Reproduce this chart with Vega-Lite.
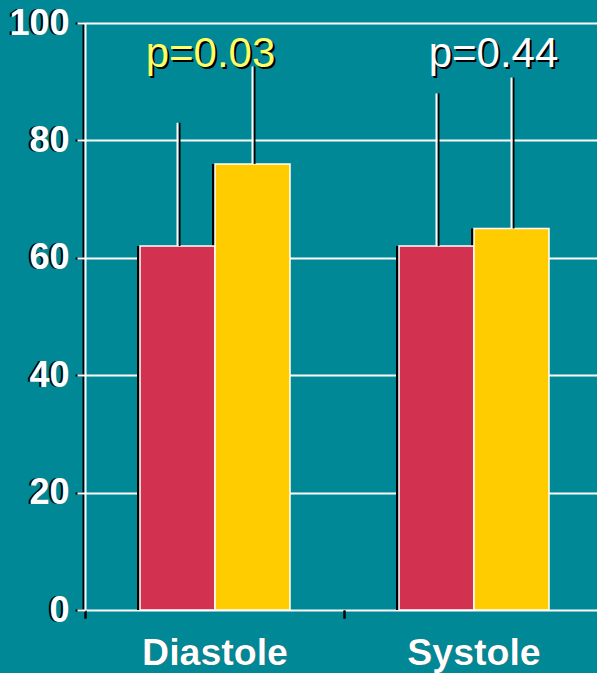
{
  "$schema": "https://vega.github.io/schema/vega-lite/v6.json",
  "autosize": "none",
  "padding": {"left": 85, "top": 23, "right": 0, "bottom": 63},
  "width": 518,
  "height": 587,
  "background": "#008896",
  "config": {"view": {"stroke": null}, "font": "Liberation Sans"},
  "datasets": {
    "bars": [
      {"group": "Diastole", "series": "A", "value": 62, "upper": 83},
      {"group": "Diastole", "series": "B", "value": 76, "upper": 92.6},
      {"group": "Systole", "series": "A", "value": 62, "upper": 88},
      {"group": "Systole", "series": "B", "value": 65, "upper": 90.7}
    ],
    "labels": [
      {"group": "Diastole", "p": "p=0.03"},
      {"group": "Systole", "p": "p=0.44"}
    ]
  },
  "layer": [
    {
      "data": {"name": "bars"},
      "mark": {"type": "bar", "color": "black"},
      "encoding": {
        "x": {"field": "group", "type": "nominal", "sort": ["Diastole", "Systole"],
          "scale": {"paddingInner": 0, "paddingOuter": 0},
          "axis": {"orient": "bottom", "title": null, "domain": false, "grid": false, "tickBand": "extent",
            "tickColor": "black", "tickWidth": 2, "tickSize": 8, "labelAngle": 0,
            "labelColor": "black", "labelFontSize": 37.5, "labelFontWeight": "bold", "labelPadding": 16,
            "encode": {"labels": {"update": {"dx": {"value": -2}, "dy": {"value": 2}}}}}},
        "xOffset": {"field": "series", "type": "nominal", "scale": {"range": [52, 202], "paddingInner": 0, "paddingOuter": 0}},
        "y": {"field": "value", "type": "quantitative", "scale": {"domain": [0, 100]},
          "axis": {"orient": "left", "title": null, "offset": 2, "values": [0, 20, 40, 60, 80, 100], "grid": false,
            "domainColor": "black", "domainWidth": 2, "tickColor": "black", "tickWidth": 2, "tickSize": 8,
            "labelColor": "black", "labelFontSize": 36, "labelFontWeight": "bold", "labelPadding": 8,
            "encode": {"labels": {"update": {"dy": {"value": 2}}}}}}
      }
    },
    {
      "data": {"name": "bars"},
      "mark": {"type": "bar", "stroke": "white", "strokeWidth": 1.5},
      "encoding": {
        "x": {"field": "group", "type": "nominal", "sort": ["Diastole", "Systole"],
          "scale": {"paddingInner": 0, "paddingOuter": 0},
          "axis": {"orient": "bottom", "title": null, "domain": false, "grid": false, "tickBand": "extent",
            "tickColor": "black", "tickWidth": 2, "tickSize": 8, "labelAngle": 0,
            "labelColor": "white", "labelFontSize": 37.5, "labelFontWeight": "bold", "labelPadding": 16}},
        "xOffset": {"field": "series", "type": "nominal", "scale": {"range": [55, 205], "paddingInner": 0, "paddingOuter": 0}},
        "y": {"field": "value", "type": "quantitative", "scale": {"domain": [0, 100]},
          "axis": {"orient": "left", "title": null, "values": [0, 20, 40, 60, 80, 100], "grid": true,
            "gridColor": "white", "gridWidth": 2, "gridOpacity": 1,
            "domainColor": "white", "domainWidth": 2, "tickColor": "white", "tickWidth": 2, "tickSize": 8,
            "labelColor": "white", "labelFontSize": 36, "labelFontWeight": "bold", "labelPadding": 8}},
        "color": {"field": "series", "type": "nominal", "scale": {"domain": ["A", "B"], "range": ["#D23250", "#FFCC00"]}, "legend": null}
      }
    },
    {
      "data": {"name": "bars"},
      "mark": {"type": "rule", "color": "black", "strokeWidth": 2},
      "encoding": {
        "x": {"field": "group", "type": "nominal", "sort": ["Diastole", "Systole"], "scale": {"paddingInner": 0, "paddingOuter": 0}, "axis": null},
        "xOffset": {"field": "series", "type": "nominal", "scale": {"range": [57, 207], "paddingInner": 0, "paddingOuter": 0}},
        "y": {"field": "value", "type": "quantitative", "axis": null},
        "y2": {"field": "upper"}
      }
    },
    {
      "data": {"name": "bars"},
      "mark": {"type": "rule", "color": "white", "strokeWidth": 2},
      "encoding": {
        "x": {"field": "group", "type": "nominal", "sort": ["Diastole", "Systole"], "scale": {"paddingInner": 0, "paddingOuter": 0}, "axis": null},
        "xOffset": {"field": "series", "type": "nominal", "scale": {"range": [55, 205], "paddingInner": 0, "paddingOuter": 0}},
        "y": {"field": "value", "type": "quantitative", "axis": null},
        "y2": {"field": "upper"}
      }
    },
    {
      "data": {"name": "labels"},
      "transform": [{"filter": "datum.group === 'Diastole'"}],
      "mark": {"type": "text", "color": "black", "fontSize": 42, "baseline": "alphabetic", "dx": -2, "dy": 2},
      "encoding": {
        "x": {"field": "group", "type": "nominal", "sort": ["Diastole", "Systole"], "scale": {"paddingInner": 0, "paddingOuter": 0}, "axis": null},
        "y": {"datum": 92.5, "type": "quantitative", "axis": null},
        "text": {"field": "p"}
      }
    },
    {
      "data": {"name": "labels"},
      "transform": [{"filter": "datum.group === 'Diastole'"}],
      "mark": {"type": "text", "color": "#FFFF66", "fontSize": 42, "baseline": "alphabetic", "dx": -4},
      "encoding": {
        "x": {"field": "group", "type": "nominal", "sort": ["Diastole", "Systole"], "scale": {"paddingInner": 0, "paddingOuter": 0}, "axis": null},
        "y": {"datum": 92.5, "type": "quantitative", "axis": null},
        "text": {"field": "p"}
      }
    },
    {
      "data": {"name": "labels"},
      "transform": [{"filter": "datum.group === 'Systole'"}],
      "mark": {"type": "text", "color": "black", "fontSize": 42, "baseline": "alphabetic", "dx": 22, "dy": 2},
      "encoding": {
        "x": {"field": "group", "type": "nominal", "sort": ["Diastole", "Systole"], "scale": {"paddingInner": 0, "paddingOuter": 0}, "axis": null},
        "y": {"datum": 92.5, "type": "quantitative", "axis": null},
        "text": {"field": "p"}
      }
    },
    {
      "data": {"name": "labels"},
      "transform": [{"filter": "datum.group === 'Systole'"}],
      "mark": {"type": "text", "color": "white", "fontSize": 42, "baseline": "alphabetic", "dx": 20},
      "encoding": {
        "x": {"field": "group", "type": "nominal", "sort": ["Diastole", "Systole"], "scale": {"paddingInner": 0, "paddingOuter": 0}, "axis": null},
        "y": {"datum": 92.5, "type": "quantitative", "axis": null},
        "text": {"field": "p"}
      }
    }
  ],
  "resolve": {"scale": {"xOffset": "independent"}, "axis": {"x": "independent", "y": "independent"}}
}
